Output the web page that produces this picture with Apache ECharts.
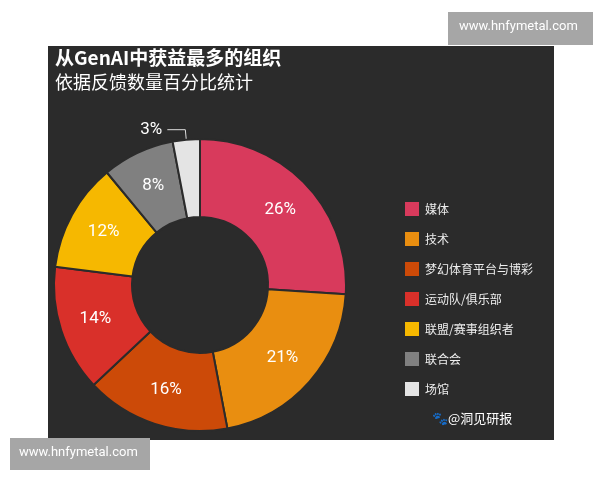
<!DOCTYPE html>
<html>
<head>
<meta charset="utf-8">
<script src="https://cdn.jsdelivr.net/npm/echarts@6/dist/echarts.min.js"></script>
<style>html,body{margin:0;padding:0;background:#fff}#c{width:600px;height:480px}</style>
</head>
<body>
<div id="c"></div>
<script>
'use strict';
var categories = ['媒体', '技术', '梦幻体育平台与博彩', '运动队/俱乐部', '联盟/赛事组织者', '联合会', '场馆'];
var values = [26, 21, 16, 14, 12, 8, 3];
var colors = ['#d83a5c', '#e98e10', '#cc4a08', '#d9302a', '#f6b800', '#808080', '#e4e4e4'];

var chart = echarts.init(document.getElementById('c'));
var font = '"Noto Sans CJK SC", sans-serif';

var data = categories.map(function (name, i) {
    var item = {name: name, value: values[i], itemStyle: {color: colors[i]}};
    if (i === values.length - 1) {
        item.label = {position: 'outside', color: '#fff'};
        item.labelLine = {show: true, length: 10, length2: 18, lineStyle: {color: '#ddd', width: 1}};
    }
    return item;
});

chart.setOption({
    backgroundColor: '#fff',
    animation: false,
    graphic: [
        {type: 'rect', shape: {x: 48, y: 46, width: 506, height: 394}, style: {fill: '#2b2b2b'}, z: -10},
        {type: 'rect', shape: {x: 448, y: 12, width: 145, height: 33}, style: {fill: '#a6a6a6'}},
        {type: 'text', left: 459, top: 20, style: {text: 'www.hnfymetal.com', fill: '#fff', font: '13px Roboto, sans-serif'}},
        {type: 'rect', shape: {x: 10, y: 438, width: 140, height: 32}, style: {fill: '#a6a6a6'}},
        {type: 'text', left: 19, top: 446, style: {text: 'www.hnfymetal.com', fill: '#fff', font: '13px Roboto, sans-serif'}},
        {type: 'text', left: 55, top: 48, style: {text: '从GenAI中获益最多的组织', fill: '#fff', font: 'bold 19px ' + font}},
        {type: 'text', left: 55, top: 73, style: {text: '依据反馈数量百分比统计', fill: '#fff', font: '18px ' + font}},
        {type: 'text', left: 432, top: 412, style: {text: '🐾@洞见研报', fill: '#fff', font: '13px ' + font}}
    ],
    legend: {
        orient: 'vertical',
        left: 398,
        top: 195,
        itemWidth: 16,
        itemHeight: 16,
        itemGap: 12,
        icon: 'rect',
        textStyle: {color: '#eee', fontSize: 12, fontFamily: font},
        data: categories
    },
    series: [
        {
            type: 'pie',
            center: [200, 285],
            radius: [68, 146],
            startAngle: 90,
            clockwise: true,
            itemStyle: {borderColor: '#2b2b2b', borderWidth: 2},
            label: {
                show: true,
                position: 'inside',
                formatter: '{c}%',
                color: '#fff',
                fontSize: 17,
                fontFamily: 'Roboto, sans-serif'
            },
            data: data
        }
    ]
});
</script>
</body>
</html>
